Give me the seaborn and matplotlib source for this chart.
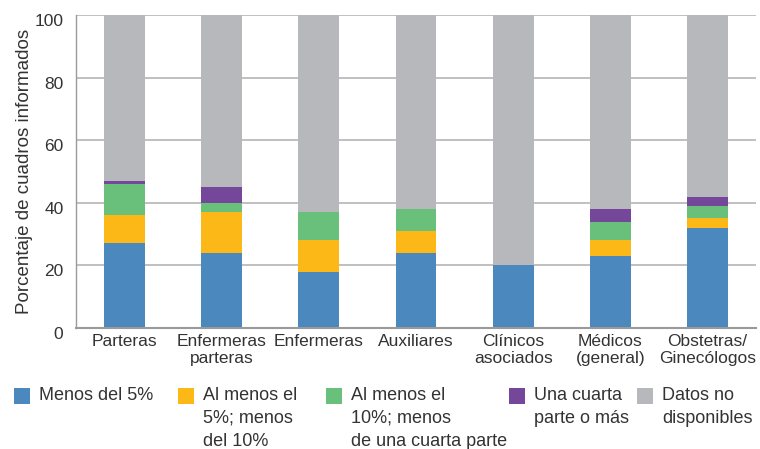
"""
Stacked bars: share of health workforce cadres reported, by category.
"""

import matplotlib
matplotlib.use('Agg')
import matplotlib.pyplot as plt
import matplotlib.transforms as mtransforms
from matplotlib.patches import Rectangle
import pandas as pd
import seaborn as sns

# Data (percent of reported cadres)
categories = ['Parteras', 'Enfermeras\nparteras', 'Enfermeras', 'Auxiliares',
              'Clínicos\nasociados', 'Médicos\n(general)', 'Obstetras/\nGinecólogos']
menos_5 = [27, 24, 18, 24, 20, 23, 32]
entre_5_10 = [9, 13, 10, 7, 0, 5, 3]
entre_10_25 = [10, 3, 9, 7, 0, 6, 4]
cuarta_o_mas = [1, 5, 0, 0, 0, 4, 3]
sin_datos = [53, 55, 63, 62, 80, 62, 58]

series_labels = ['Menos del 5%',
                 'Al menos el\n5%; menos\ndel 10%',
                 'Al menos el\n10%; menos\nde una cuarta parte',
                 'Una cuarta\nparte o más',
                 'Datos no\ndisponibles']
series_colors = ['#4a88be', '#fbb817', '#68c07a', '#74479b', '#b7b8bc']
y_ticks = [0, 20, 40, 60, 80, 100]

TEXT = '#333333'
W, H = 760, 449


def main():
    sns.set_style('white')
    plt.rcParams['font.family'] = ['Liberation Sans', 'DejaVu Sans']

    cols = ['menos_5', 'entre_5_10', 'entre_10_25', 'cuarta_o_mas', 'sin_datos']
    df = pd.DataFrame({
        'categoria': categories,
        'menos_5': menos_5,
        'entre_5_10': entre_5_10,
        'entre_10_25': entre_10_25,
        'cuarta_o_mas': cuarta_o_mas,
        'sin_datos': sin_datos,
    })
    cum = df[cols].cumsum(axis=1)

    fig = plt.figure(figsize=(W / 100, H / 100), dpi=100)
    ax = fig.add_axes([76 / W, 1 - 328 / H, 680 / W, 313 / H])

    # draw tallest stack first so each lower segment sits on top of it
    for col, color in reversed(list(zip(cols, series_colors))):
        sns.barplot(x=df['categoria'], y=cum[col], order=categories,
                    color=color, width=0.42, saturation=1, linewidth=0,
                    errorbar=None, ax=ax, zorder=2)

    ax.set_xlim(-0.5, len(categories) - 0.5)
    ax.set_ylim(0, 100)
    ax.set_yticks(y_ticks)
    ax.set_xlabel('')
    ax.set_ylabel('Porcentaje de cuadros informados', fontsize=13.5,
                  color=TEXT, labelpad=1)

    ax.set_axisbelow(True)
    ax.grid(axis='y', color='#b5b5b5', linewidth=1.2)
    ax.grid(axis='x', visible=False)

    for side in ['top', 'right']:
        ax.spines[side].set_visible(False)
    ax.spines['left'].set_color('#9a9a9a')
    ax.spines['left'].set_linewidth(1.0)
    ax.spines['bottom'].set_color('#9a9a9a')
    ax.spines['bottom'].set_linewidth(1.5)

    ax.tick_params(axis='x', length=0, pad=4, labelsize=12.5, labelcolor=TEXT)
    ax.tick_params(axis='y', length=0, pad=9, labelsize=12.5, labelcolor=TEXT)
    ax.set_xticks([i + 0.5 for i in range(-1, len(categories))], minor=True)
    ax.tick_params(axis='x', which='minor', direction='in', length=5,
                   width=1, color='#9a9a9a')

    # y labels sit a little below their gridlines in the reference
    shift = mtransforms.ScaledTranslation(0, -5 / 100, fig.dpi_scale_trans)
    for tick in ax.yaxis.get_major_ticks():
        tick.label1.set_transform(tick.label1.get_transform() + shift)

    # legend laid out by hand to match the uneven column spacing
    box_x = [14, 178, 326, 509, 637]
    for x, label, color in zip(box_x, series_labels, series_colors):
        fig.add_artist(Rectangle((x / W, 1 - 404 / H), 16 / W, 16 / H,
                                 transform=fig.transFigure, color=color,
                                 linewidth=0))
        fig.text((x + 25) / W, 1 - 387 / H, label, fontsize=13, color=TEXT,
                 va='top', ha='left', linespacing=1.45)

    fig.savefig('out.png', dpi=100)
    plt.close(fig)


if __name__ == '__main__':
    main()
